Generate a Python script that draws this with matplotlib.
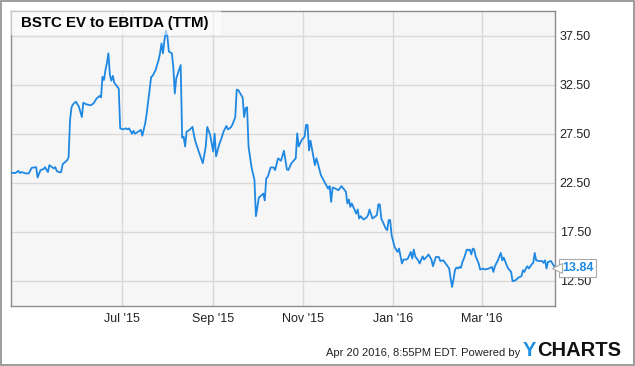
#!/usr/bin/python
"""BSTC EV to EBITDA (TTM) - YCharts style line chart."""

import pandas as pd
import matplotlib
matplotlib.use('Agg')
import matplotlib.pyplot as plt
from matplotlib.patches import Rectangle

plt.rcParams['font.family'] = ['Liberation Sans', 'DejaVu Sans']

# data: days after the start date and the EV/EBITDA value
start_date = '2015-04-17'
days = [
    0, 3, 5, 6, 7, 10, 12, 14, 16, 17, 18, 20, 22, 23, 25, 26, 28, 29, 30, 31,
    33, 34, 35, 38, 39, 40, 41, 42, 44, 46, 48, 49, 51, 54, 56, 58, 60, 61, 62, 63,
    64, 65, 66, 67, 68, 69, 70, 73, 74, 76, 78, 79, 80, 82, 83, 84, 86, 88, 89, 91,
    92, 95, 96, 98, 100, 101, 102, 103, 104, 105, 106, 107, 109, 110, 111, 112, 115, 116, 117, 118,
    119, 121, 123, 124, 125, 127, 130, 132, 133, 135, 137, 138, 139, 141, 143, 144, 146, 147, 149, 150,
    152, 153, 154, 157, 158, 159, 160, 161, 163, 165, 166, 168, 171, 172, 173, 174, 176, 178, 179, 181,
    183, 185, 187, 188, 190, 193, 194, 195, 197, 199, 200, 201, 202, 203, 206, 207, 208, 210, 213, 215,
    216, 217, 218, 220, 222, 224, 227, 228, 229, 230, 231, 232, 234, 235, 236, 237, 239, 241, 242, 243,
    245, 248, 249, 250, 251, 254, 255, 256, 257, 258, 260, 262, 263, 265, 266, 268, 269, 271, 272, 273,
    274, 276, 277, 279, 280, 282, 283, 285, 286, 288, 290, 291, 293, 295, 297, 298, 299, 300, 301, 302,
    303, 304, 305, 306, 307, 309, 310, 311, 312, 313, 314, 315, 317, 318, 320, 321, 324, 326, 327, 328,
    330, 332, 333, 334, 336, 337, 339, 340, 342, 344, 346, 347, 348, 349, 350, 351, 353, 354, 355, 356,
    358, 360, 361, 362, 363, 364, 366, 367, 369,
]
ev_ebitda = [
    23.52, 23.50, 23.72, 23.50, 23.60, 23.46, 23.46, 24.03, 24.07, 24.10, 23.05, 23.80, 23.90, 24.10, 23.60, 24.30, 24.07, 23.97, 24.10, 23.70,
    23.56, 23.60, 24.40, 24.80, 25.10, 28.90, 30.20, 30.50, 30.77, 30.26, 29.20, 30.66, 30.50, 30.40, 30.60, 31.10, 31.35, 31.20, 33.30, 32.98,
    34.00, 34.70, 35.70, 33.50, 32.90, 33.40, 32.70, 32.10, 28.05, 27.95, 28.05, 27.95, 28.05, 27.50, 27.80, 27.50, 27.70, 27.90, 27.30, 28.60,
    29.60, 33.30, 33.40, 34.00, 35.00, 35.70, 36.70, 35.70, 37.06, 38.00, 37.40, 35.87, 35.70, 34.30, 31.60, 33.15, 34.50, 27.10, 27.20, 26.20,
    27.70, 27.90, 28.20, 27.37, 26.70, 25.80, 24.50, 26.20, 28.20, 27.37, 25.70, 27.50, 25.20, 26.35, 27.20, 27.70, 28.30, 27.95, 28.15, 28.40,
    29.20, 32.00, 31.96, 31.20, 29.20, 30.10, 30.20, 26.20, 24.10, 22.80, 19.10, 20.99, 21.40, 20.70, 22.95, 23.10, 24.07, 24.07, 23.80, 24.99,
    24.75, 25.77, 23.86, 23.80, 24.48, 25.00, 27.54, 26.20, 26.86, 27.20, 28.40, 28.40, 25.80, 26.80, 24.30, 25.00, 24.48, 23.30, 22.44, 21.90,
    22.17, 20.56, 22.03, 21.90, 21.75, 22.17, 21.60, 20.40, 20.80, 20.05, 20.40, 20.05, 19.37, 19.78, 18.86, 19.10, 18.76, 18.97, 19.20, 19.78,
    18.86, 19.20, 20.30, 20.30, 18.86, 17.85, 17.67, 18.70, 18.70, 17.16, 15.97, 15.46, 15.80, 14.28, 14.68, 14.68, 14.78, 15.46, 14.78, 15.70,
    15.00, 14.60, 14.28, 15.00, 14.68, 15.00, 15.20, 14.68, 14.00, 14.94, 14.94, 14.53, 14.60, 14.20, 13.77, 12.75, 11.90, 12.70, 13.66, 13.87,
    13.77, 13.93, 13.83, 14.44, 14.78, 15.70, 15.63, 15.70, 15.20, 15.80, 15.70, 15.00, 14.28, 13.66, 13.77, 13.66, 13.77, 13.93, 13.42, 14.00,
    14.60, 15.36, 14.60, 14.88, 14.10, 13.77, 13.42, 12.47, 12.57, 12.85, 12.98, 13.59, 13.42, 13.77, 14.00, 13.77, 14.20, 14.34, 15.36, 14.60,
    14.53, 14.53, 14.34, 14.60, 13.77, 14.44, 14.53, 14.28, 13.84,
]

tick_dates = ['2015-07-01', '2015-09-01', '2015-11-01', '2016-01-01', '2016-03-01']
tick_labels = ["Jul '15", "Sep '15", "Nov '15", "Jan '16", "Mar '16"]
y_ticks = [12.5, 17.5, 22.5, 27.5, 32.5, 37.5]

title = 'BSTC EV to EBITDA (TTM)'
footer = 'Apr 20 2016, 8:55PM EDT. Powered by'

LINE_BLUE = '#1f88e3'
GRID = '#d9d9d9'
FRAME = '#8c8c8c'


def main():
    dates = pd.Timestamp(start_date) + pd.to_timedelta(days, unit='D')

    fig = plt.figure(figsize=(6.35, 3.66), dpi=100)
    ax = fig.add_axes([0.0169, 0.164, 0.857, 0.807])
    ax.set_facecolor('#f6f6f6')

    ax.plot(dates, ev_ebitda, color=LINE_BLUE, linewidth=1.3, zorder=3,
            solid_joinstyle='round')

    # axes limits / ticks
    x0 = pd.Timestamp(start_date) - pd.Timedelta(hours=5)
    x1 = pd.Timestamp(start_date) + pd.Timedelta(days=368.7)
    ax.set_xlim(x0, x1)
    ax.set_ylim(9.95, 40.05)
    ax.set_xticks(pd.to_datetime(tick_dates))
    ax.set_xticklabels(tick_labels)
    ax.set_yticks(y_ticks)
    ax.set_yticklabels([f'{v:.2f}' for v in y_ticks])
    ax.yaxis.tick_right()
    ax.tick_params(axis='both', length=0, labelsize=9, colors='#222222')
    ax.tick_params(axis='y', pad=3.5)
    ax.tick_params(axis='x', pad=5)
    ax.grid(True, color=GRID, linewidth=1.0, zorder=0)
    ax.set_axisbelow(True)
    for side in ax.spines.values():
        side.set_color(FRAME)
        side.set_linewidth(1.0)

    # title box on top of the plot
    ax.add_patch(Rectangle((0, 0.917), 0.386, 0.083, transform=ax.transAxes,
                           facecolor='white', alpha=0.55, edgecolor='none', zorder=4))
    ax.text(0.019, 0.958, title, transform=ax.transAxes, fontsize=10.8,
            fontweight='bold', color='black', va='center', ha='left', zorder=5)

    # last value flag
    last = ev_ebitda[-1]
    ax.annotate(f'{last:.2f}', xy=(1.0, last), xycoords=('axes fraction', 'data'),
                xytext=(5, 0), textcoords='offset points', va='center', ha='left',
                fontsize=9, fontweight='bold', color=LINE_BLUE, zorder=6,
                annotation_clip=False,
                bbox=dict(boxstyle='square,pad=0.25', facecolor='white',
                          edgecolor='#aaaaaa', linewidth=0.8))
    ax.plot([1.004], [last], marker='<', markersize=6.5, markerfacecolor='white',
            markeredgecolor='#aaaaaa', markeredgewidth=0.8,
            transform=ax.get_yaxis_transform(), clip_on=False, zorder=7)

    # footer
    fig.text(0.819, 0.027, footer, fontsize=8.0, color='#222222', ha='right', va='baseline')
    logo_y = fig.text(0.823, 0.027, 'Y', fontsize=14.5, fontweight='bold', color='#1f8fe5',
                      ha='left', va='baseline')
    ax.annotate('CHARTS', xy=(1.0, 0.0), xycoords=logo_y, xytext=(0.5, 0),
                textcoords='offset points', fontsize=14.5, fontweight='bold',
                color='#111111', ha='left', va='bottom', annotation_clip=False)

    # outer frame
    fig.patches.append(Rectangle((0.001, 0.002), 0.997, 0.996, transform=fig.transFigure,
                                 fill=False, edgecolor=FRAME, linewidth=1.2))

    fig.savefig('out.png', dpi=100)
    plt.close(fig)


if __name__ == '__main__':
    main()
